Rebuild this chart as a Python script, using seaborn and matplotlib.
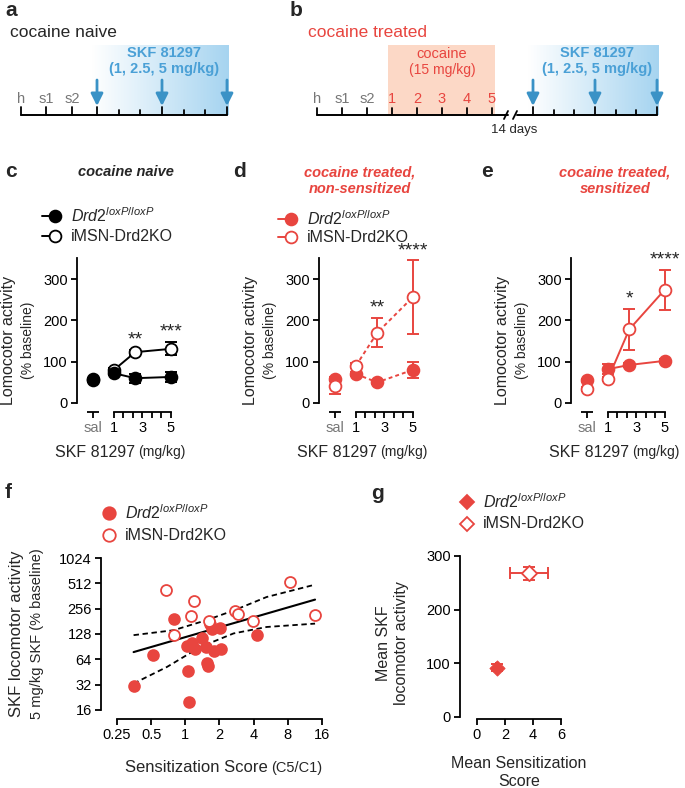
import numpy as np
import matplotlib
matplotlib.use("Agg")
import matplotlib.pyplot as plt
import seaborn as sns
from matplotlib.transforms import blended_transform_factory
from matplotlib.colors import LinearSegmentedColormap
from matplotlib.patches import Rectangle

sns.set_theme(style="ticks")
plt.rcParams['font.family'] = ['Liberation Sans', 'DejaVu Sans']
plt.rcParams['mathtext.fontset'] = 'custom'
plt.rcParams['mathtext.rm'] = 'Liberation Sans'
plt.rcParams['mathtext.it'] = 'Liberation Sans:italic'
plt.rcParams['mathtext.bf'] = 'Liberation Sans:bold'

RED = '#e8453f'
BLUE_TXT = '#4aa0d6'
BLUE_ARR = '#3a92c6'
GREY = '#777777'
ORANGE = '#fcd8c6'

W, H = 685, 788

# ---- timelines (a, b) ----
pre_days = ['h', 's1', 's2']
coc_days = ['1', '2', '3', '4', '5']
skf_sessions = 7          # tick count of the SKF block, arrows on 1st, 4th, 7th
skf_arrows = [0, 3, 6]

# ---- dose response (c, d, e): values are [sal, 1, 2.5, 5 mg/kg] ----
doses = [1, 2.5, 5]
sal_pos = -0.5

c_wt = [57, 72, 60, 63]
c_wt_sem = [4, 5, 11, 11]
c_ko = [55, 80, 123, 131]
c_ko_sem = [5, 5, 6, 16]
c_stars = ['', '**', '***']

d_wt = [58, 70, 50, 80]
d_wt_sem = [5, 5, 4, 20]
d_ko = [40, 90, 170, 256]
d_ko_sem = [18, 6, 35, 89]
d_stars = ['', '**', '****']

e_wt = [55, 82, 92, 102]
e_wt_sem = [4, 12, 5, 5]
e_ko = [34, 58, 178, 274]
e_ko_sem = [5, 5, 49, 48]
e_stars = ['', '*', '****']

# ---- f: sensitization score vs SKF response ----
f_wt_x = [0.35, 0.52, 0.80, 1.05, 1.08, 1.03, 1.14, 1.21, 1.39, 1.53, 1.66, 1.73, 1.78, 2.03, 2.06, 1.55, 1.57, 4.28]
f_wt_y = [31, 73, 192, 47, 20, 92, 99, 86, 116, 90, 170, 145, 81, 149, 85, 58, 53, 124]
f_ko_x = [0.675, 0.79, 1.13, 1.20, 1.63, 2.72, 2.92, 3.92, 8.4, 13.8]
f_ko_y = [424, 126, 210, 313, 184, 239, 224, 184, 531, 214]
fit_x = [0.35, 13.9]
fit_y = [78, 328]
ci_up_x = [0.35, 0.79, 1.54, 2.7, 5.2, 13.9]
ci_up_y = [124, 142, 187, 245, 352, 494]
ci_lo_x = [0.35, 0.69, 1.36, 2.66, 5.2, 13.9]
ci_lo_y = [33, 52, 90, 130, 155, 170]

# ---- g: group means ----
g_x = [1.43, 3.71]
g_x_sem = [0.1, 1.33]
g_y = [92, 268]
g_y_sem = [6, 12]

DRD2 = r'$\mathit{Drd2}^{\mathit{loxP/loxP}}$'
KO = 'iMSN-Drd2KO'

fig = plt.figure(figsize=(W / 100, H / 100), dpi=100)
ov = fig.add_axes([0, 0, 1, 1])
ov.set_axis_off()


def px_axes(left, top, right, bottom):
    ax = fig.add_axes([left / W, 1 - bottom / H, (right - left) / W, (bottom - top) / H])
    ax.patch.set_alpha(0)
    for s in ['top', 'right']:
        ax.spines[s].set_visible(False)
    for s in ['left', 'bottom']:
        ax.spines[s].set_linewidth(1.3)
        ax.spines[s].set_color('black')
    ax.tick_params(which='both', width=1.3, length=4.5, labelsize=10.5, color='black',
                   labelcolor='black', pad=2)
    return ax


def T(x, y, s, **kw):
    kw.setdefault('va', 'center')
    kw.setdefault('ha', 'left')
    ov.text(x, y, s, **kw)


# ================= timelines =================
grad = LinearSegmentedColormap.from_list('skf', ['#ffffff', '#a6d4f0'])
BASE = 115


def skf_block(x0, x1):
    ov.imshow(np.linspace(0, 1, 256)[None, :], extent=[x0 - 5, x1 + 2, BASE, 45],
              cmap=grad, aspect='auto', zorder=0)
    xs = np.linspace(x0, x1, skf_sessions)
    for i, x in enumerate(xs):
        ov.plot([x, x], [BASE, BASE - (8 if i in skf_arrows else 5)], color='black', lw=1.3)
    for i in skf_arrows:
        ov.annotate('', xy=(xs[i], BASE - 9), xytext=(xs[i], 80),
                    arrowprops=dict(arrowstyle='-|>,head_length=0.6,head_width=0.3',
                                    color=BLUE_ARR, lw=2.0, shrinkA=0, shrinkB=0))
    mid = (x0 + x1) / 2 + 2
    T(mid, 53, 'SKF 81297', ha='center', color=BLUE_TXT, fontsize=10.5, fontweight='bold')
    T(mid, 69, '(1, 2.5, 5 mg/kg)', ha='center', color=BLUE_TXT, fontsize=10.5, fontweight='bold')


# a
T(5, 10, 'a', fontsize=15, fontweight='bold')
T(10, 32, 'cocaine naive', fontsize=12.5)
a_pre = [21 + 25.5 * i for i in range(len(pre_days))]
for x, lab in zip(a_pre, pre_days):
    ov.plot([x, x], [BASE, BASE - 8], color='black', lw=1.3)
    T(x, 99, lab, ha='center', color=GREY, fontsize=10.5)
skf_block(97, 227)
ov.plot([21, 227], [BASE, BASE], color='black', lw=1.4)

# b
T(290, 10, 'b', fontsize=15, fontweight='bold')
T(308, 32, 'cocaine treated', fontsize=12.5, color=RED)
ov.add_patch(Rectangle((388, 45), 107, BASE - 45, color=ORANGE, lw=0, zorder=0))
T(442, 54, 'cocaine', ha='center', color=RED, fontsize=10.5)
T(442, 70, '(15 mg/kg)', ha='center', color=RED, fontsize=10)
b_days = pre_days + coc_days
for i, lab in enumerate(b_days):
    x = 317 + 25 * i
    ov.plot([x, x], [BASE, BASE - 7], color='black', lw=1.3)
    T(x, 99, lab, ha='center', fontsize=10.5, color=GREY if lab in pre_days else RED)
ov.plot([317, 508], [BASE, BASE], color='black', lw=1.4)
ov.plot([517, 657], [BASE, BASE], color='black', lw=1.4)
for bx in [506, 515]:
    ov.plot([bx - 2, bx + 2], [BASE + 4, BASE - 4], color='black', lw=1.3)
skf_block(533, 657)
T(514, 130, '14 days', ha='center', fontsize=9.5)

# ================= dose panels c, d, e =================
Y0, YS, XS = 403, 0.4133, 14.2


def dose_panel(sx, wt, wt_sem, ko, ko_sem, stars, col, ls, wt_top):
    ax = px_axes(sx, Y0 - 350 * YS, sx + 7.1 * XS, Y0)
    xs = [sal_pos] + doses
    zw, zk = (5, 4) if wt_top else (4, 5)
    ax.errorbar(xs, wt, yerr=wt_sem, fmt='none', ecolor=col, elinewidth=1.4,
                capsize=4, capthick=1.4, zorder=zw - 2)
    ax.errorbar(xs, ko, yerr=ko_sem, fmt='none', ecolor=col, elinewidth=1.4,
                capsize=4, capthick=1.4, zorder=zk - 2)
    sns.lineplot(x=doses, y=wt[1:], ax=ax, color=col, linestyle=ls, lw=1.4, marker='o',
                 markersize=8.5, mfc=col, mec=col, mew=1.3, errorbar=None, zorder=zw)
    sns.lineplot(x=doses, y=ko[1:], ax=ax, color=col, linestyle=ls, lw=1.4, marker='o',
                 markersize=8.5, mfc='white', mec=col, mew=1.3, errorbar=None, zorder=zk)
    ax.plot([sal_pos], [wt[0]], 'o', ms=8.5, mfc=col, mec=col, mew=1.3, zorder=zw)
    ax.plot([sal_pos], [ko[0]], 'o', ms=8.5, mfc='white', mec=col, mew=1.3, zorder=zk)
    for d, k, s, st in zip(doses, ko[1:], ko_sem[1:], stars):
        if st:
            ax.text(d, k + s + 24, st, ha='center', va='center', fontsize=14, clip_on=False)
    ax.set_xlim(-1.6, 5.5)
    ax.set_ylim(0, 350)
    ax.set_xlabel('')
    ax.set_ylabel('')
    ax.spines['bottom'].set_position(('outward', 6.5))
    ax.spines['bottom'].set_bounds(1, 5)
    ax.set_yticks([0, 100, 200, 300])
    ax.set_xticks([sal_pos, 1, 3, 5], ['sal', '1', '3', '5'])
    ax.set_xticks([1 + 4 / 6, 1 + 8 / 6, 1 + 16 / 6, 1 + 20 / 6], minor=True)
    ax.get_xticklabels()[0].set_color(GREY)
    tr = blended_transform_factory(ax.transData, ax.transAxes)
    yb = -9.03 / (350 * YS)
    ax.plot([sal_pos - 0.42, sal_pos + 0.42], [yb, yb], color='black', lw=1.3,
            transform=tr, clip_on=False, solid_capstyle='butt')
    # labels
    T(sx - 68, 340, 'Lomocotor activity', rotation=90, ha='center', fontsize=11.5)
    T(sx - 49, 340, '(% baseline)', rotation=90, ha='center', fontsize=10)
    T(sx + 58, 452, 'SKF 81297', ha='right', fontsize=11.5)
    T(sx + 61, 452, '(mg/kg)', ha='left', fontsize=10)
    return ax


dose_panel(77, c_wt, c_wt_sem, c_ko, c_ko_sem, c_stars, 'black', '-', True)
dose_panel(319, d_wt, d_wt_sem, d_ko, d_ko_sem, d_stars, RED, (0, (2, 1.6)), False)
dose_panel(571, e_wt, e_wt_sem, e_ko, e_ko_sem, e_stars, RED, '-', False)

T(5, 171, 'c', fontsize=15, fontweight='bold')
T(233, 171, 'd', fontsize=15, fontweight='bold')
T(481, 171, 'e', fontsize=15, fontweight='bold')
T(126, 172, 'cocaine naive', ha='center', fontsize=10.5, fontweight='bold', style='italic')
T(360, 172, 'cocaine treated,', ha='center', fontsize=10.5, fontweight='bold', style='italic', color=RED)
T(360, 189, 'non-sensitized', ha='center', fontsize=10.5, fontweight='bold', style='italic', color=RED)
T(615, 172, 'cocaine treated,', ha='center', fontsize=10.5, fontweight='bold', style='italic', color=RED)
T(615, 189, 'sensitized', ha='center', fontsize=10.5, fontweight='bold', style='italic', color=RED)


def legend_row(x, y, text, marker, face, col, line=False, ms=8.5):
    if line:
        ov.plot([x - 13, x + 6], [y, y], color=col, lw=1.4)
    ov.plot([x], [y], marker=marker, ms=ms, mfc=face, mec=col, mew=1.3, ls='none')
    T(x + 16, y, text, fontsize=11.5)


legend_row(55, 216, DRD2, 'o', 'black', 'black', line=True)
legend_row(55, 236, KO, 'o', 'white', 'black', line=True)
legend_row(291, 219, DRD2, 'o', RED, RED, line=True)
legend_row(291, 237, KO, 'o', 'white', RED, line=True)

# ================= f =================
axf = px_axes(100.8, 558, 327.8, 719)
sns.lineplot(x=ci_up_x, y=ci_up_y, ax=axf, color='black', lw=1.3, linestyle=(0, (3, 2)), errorbar=None, zorder=2)
sns.lineplot(x=ci_lo_x, y=ci_lo_y, ax=axf, color='black', lw=1.3, linestyle=(0, (3, 2)), errorbar=None, zorder=2)
sns.lineplot(x=fit_x, y=fit_y, ax=axf, color='black', lw=1.5, errorbar=None, zorder=2)
sns.scatterplot(x=f_wt_x, y=f_wt_y, ax=axf, color=RED, edgecolor=RED, s=62, linewidth=1.2, zorder=3)
sns.scatterplot(x=f_ko_x, y=f_ko_y, ax=axf, color='white', edgecolor=RED, s=62, linewidth=1.3, zorder=3)
axf.set_xscale('log', base=2)
axf.set_yscale('log', base=2)
axf.set_xlim(0.18, 18)
axf.set_ylim(12.5, 1024)
axf.spines['bottom'].set_bounds(0.25, 16)
axf.spines['left'].set_bounds(16, 1024)
yt = [16, 32, 64, 128, 256, 512, 1024]
xt = [0.25, 0.5, 1, 2, 4, 8, 16]
axf.set_yticks(yt, [str(v) for v in yt])
axf.set_xticks(xt, ['0.25', '0.5', '1', '2', '4', '8', '16'])
axf.minorticks_off()
axf.set_xlabel('')
axf.set_ylabel('')

T(5, 492, 'f', fontsize=15, fontweight='bold')
T(17, 634, 'SKF locomotor activity', rotation=90, ha='center', fontsize=12)
T(37, 634, '5 mg/kg SKF (% baseline)', rotation=90, ha='center', fontsize=10.5)
T(268, 768, 'Sensitization Score', ha='right', fontsize=12)
T(271, 768, '(C5/C1)', ha='left', fontsize=10.5)
legend_row(109, 513, DRD2, 'o', RED, RED, ms=9)
legend_row(109, 535, KO, 'o', 'white', RED, ms=9)

# ================= g =================
axg = px_axes(460, 550.5, 569.4, 718.6)
axg.errorbar(g_x, g_y, xerr=g_x_sem, yerr=g_y_sem, fmt='none', ecolor=RED,
             elinewidth=1.4, capsize=4, capthick=1.4, zorder=2)
sns.scatterplot(x=g_x[:1], y=g_y[:1], ax=axg, marker='D', color=RED, edgecolor=RED, s=60, zorder=3)
sns.scatterplot(x=g_x[1:], y=g_y[1:], ax=axg, marker='D', color='white', edgecolor=RED,
                s=60, linewidth=1.3, zorder=3)
axg.set_xlim(-1.214, 6.6)
axg.set_ylim(-3, 310)
axg.spines['bottom'].set_bounds(0, 6)
axg.spines['left'].set_bounds(0, 300)
axg.set_yticks([0, 100, 200, 300])
axg.set_xticks([0, 2, 4, 6])
axg.set_xlabel('')
axg.set_ylabel('')

T(371, 493, 'g', fontsize=15, fontweight='bold')
T(393, 643, 'Mean SKF\nlocomotor activity', rotation=90, ha='center', fontsize=11.5,
  multialignment='center', linespacing=1.25)
T(519, 772, 'Mean Sensitization\nScore', ha='center', fontsize=11.5,
  multialignment='center', linespacing=1.25)
legend_row(467, 502, DRD2, 'D', RED, RED, ms=7.5)
legend_row(467, 524, KO, 'D', 'white', RED, ms=7.5)

ov.set_xlim(0, W)
ov.set_ylim(H, 0)

fig.savefig('out.png', dpi=100)
